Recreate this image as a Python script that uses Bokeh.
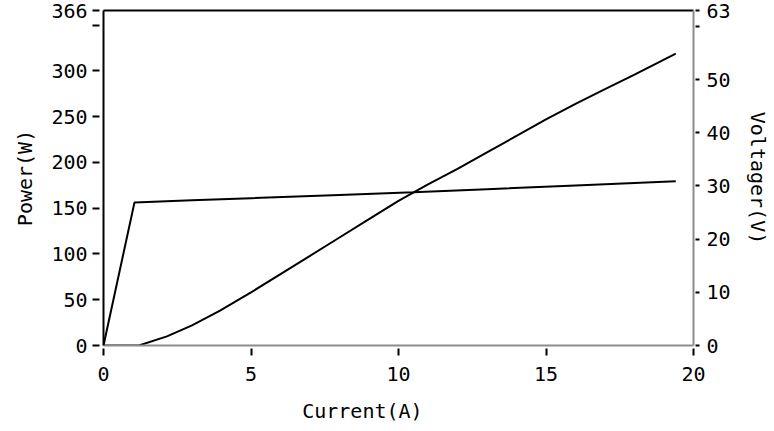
from bokeh.plotting import figure
from bokeh.models import Range1d, LinearAxis, FixedTicker
from bokeh.embed import file_html
from bokeh.resources import INLINE

# Data
current_p = [0, 1.2, 2.15, 3, 3.95, 5, 6, 7, 8, 9, 10, 11, 12, 13, 14, 15, 16, 17, 18, 19.4]
power_w = [0, 0, 10, 22, 38, 58, 78, 98, 118, 138, 158, 176, 193, 211, 229, 247, 264, 280, 296, 319]

current_v = [0, 1.05, 3, 5, 8, 10.5, 13, 16, 19.4]
voltage_v = [0, 26.9, 27.3, 27.7, 28.3, 28.8, 29.4, 30.1, 30.9]

x_ticks = [0, 5, 10, 15, 20]
power_ticks = [0, 50, 100, 150, 200, 250, 300, 366]
power_minor = [350]
voltage_ticks = [0, 10, 20, 30, 40, 50, 63]
voltage_minor = [60]

FONT = "DejaVu Sans Mono"
FS = "20px"

p = figure(width=772, height=425, output_backend="svg", toolbar_location=None,
           x_range=Range1d(0, 20), y_range=Range1d(0, 366),
           min_border_left=103, min_border_right=77, min_border_top=10, min_border_bottom=78)
p.extra_y_ranges = {"volt": Range1d(0, 63)}
p.grid.visible = False
p.background_fill_color = "white"
p.border_fill_color = "white"
p.outline_line_color = None

p.line(current_p, power_w, line_color="black", line_width=2)
p.line(current_v, voltage_v, y_range_name="volt", line_color="black", line_width=2)

xa = p.below[0]
la = p.left[0]

right = LinearAxis(y_range_name="volt")
p.add_layout(right, "right")

top = LinearAxis(ticker=FixedTicker(ticks=[], minor_ticks=[]),
                 axis_line_color="black", axis_line_width=2,
                 major_tick_line_color=None, minor_tick_line_color=None,
                 major_label_text_color=None,
                 major_tick_in=0, major_tick_out=0, minor_tick_in=0, minor_tick_out=0,
                 major_label_standoff=0)
p.add_layout(top, "above")

xa.ticker = FixedTicker(ticks=x_ticks, minor_ticks=[])
la.ticker = FixedTicker(ticks=power_ticks, minor_ticks=power_minor)
right.ticker = FixedTicker(ticks=voltage_ticks, minor_ticks=voltage_minor)

xa.axis_label = "Current(A)" + "\u00a0" * 6
la.axis_label = "Power(W)"
right.axis_label = "Voltager(V)"

for ax in (xa, la, right):
    ax.major_label_text_font = FONT
    ax.major_label_text_font_size = FS
    ax.major_label_text_color = "black"
    ax.axis_label_text_font = FONT
    ax.axis_label_text_font_size = FS
    ax.axis_label_text_font_style = "normal"
    ax.axis_label_text_color = "black"
    ax.major_tick_line_color = "black"
    ax.minor_tick_line_color = "black"
    ax.major_tick_line_width = 2
    ax.minor_tick_line_width = 2

la.axis_line_color = "black"
la.axis_line_width = 2
la.major_tick_in = -4
la.major_tick_out = 11
la.minor_tick_in = -4
la.minor_tick_out = 11
la.major_label_standoff = 5
la.axis_label_standoff = 11

xa.axis_line_color = "#8c8c8c"
xa.axis_line_width = 2
xa.major_tick_in = -3
xa.major_tick_out = 10
xa.major_label_standoff = 11
xa.axis_label_standoff = 15

right.axis_line_color = "#8c8c8c"
right.axis_line_width = 2
right.major_tick_in = -2
right.major_tick_out = 6
right.minor_tick_in = -2
right.minor_tick_out = 6
right.major_label_standoff = 7
right.axis_label_standoff = 12

open("out.html", "w").write(file_html(p, INLINE))
